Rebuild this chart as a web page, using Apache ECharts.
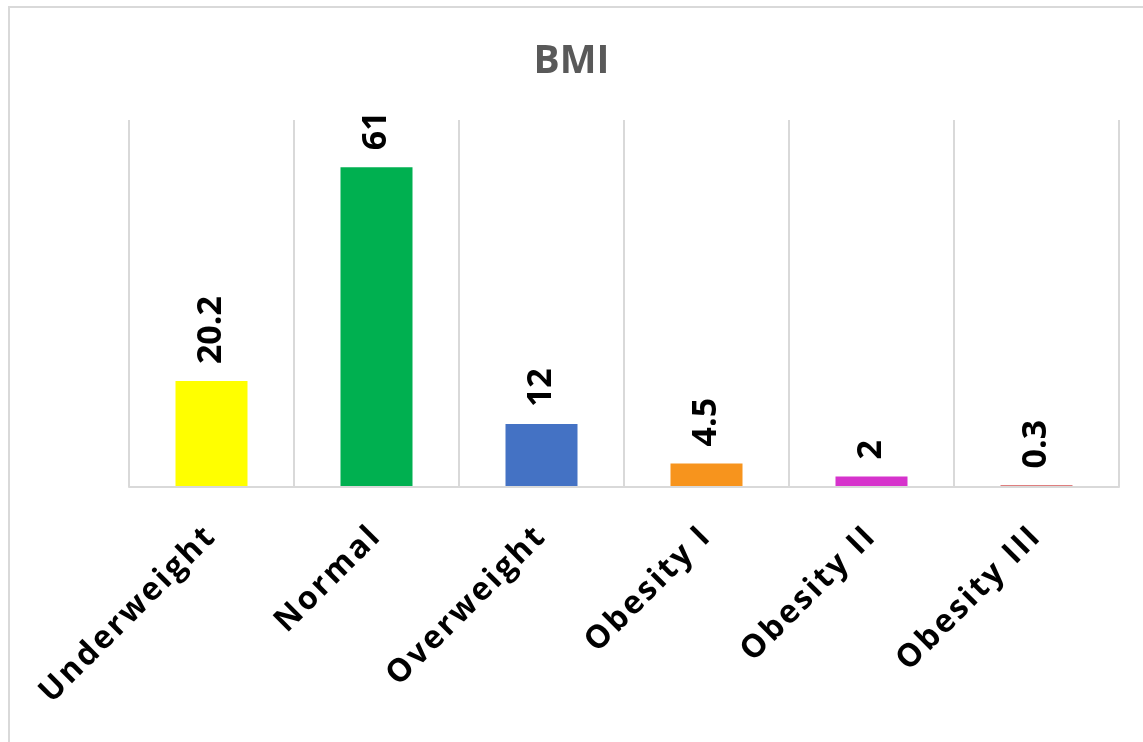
<!DOCTYPE html>
<html>
<head>
<meta charset="utf-8">
<script src="https://cdn.jsdelivr.net/npm/echarts@6/dist/echarts.min.js"></script>
<style>
  html, body { margin: 0; padding: 0; background: #fff; }
  #frame {
    position: absolute; left: 8px; top: 6px; width: 1150px; height: 760px;
    border: 2px solid #d9d9d9; box-sizing: border-box;
  }
  #chart { position: absolute; left: 0; top: 0; width: 1143px; height: 742px; }
</style>
</head>
<body>
<div id="frame"></div>
<div id="chart"></div>
<script>
const categories = ['Underweight', 'Normal', 'Overweight', 'Obesity I', 'Obesity II', 'Obesity III']
const values = [20.2, 61, 12, 4.5, 2, 0.3]
const barColors = ['#ffff00', '#00b050', '#4472c4', '#f7941d', '#d633cc', '#c00000']

// category labels in the original are drawn a bit spread out,
// give only that font size some extra letter spacing
const CAT_FONT = 32
const origFillText = CanvasRenderingContext2D.prototype.fillText
CanvasRenderingContext2D.prototype.fillText = function (t, x, y, w) {
  this.letterSpacing = this.font.indexOf(CAT_FONT + 'px') >= 0 ? '2.5px' : '0px'
  return w === undefined ? origFillText.call(this, t, x, y) : origFillText.call(this, t, x, y, w)
}

const chart = echarts.init(document.getElementById('chart'))

const option = {
  animation: false,
  title: {
    text: 'BMI',
    left: 'center',
    top: 37,
    textStyle: {
      fontFamily: 'Open Sans',
      fontWeight: 'bold',
      fontSize: 39,
      color: '#595959'
    }
  },
  grid: {
    left: 129,
    right: 24,
    top: 120,
    bottom: 255
  },
  xAxis: {
    type: 'category',
    data: categories,
    z: 3,
    axisLine: { lineStyle: { color: '#d9d9d9', width: 2 } },
    axisTick: { show: false },
    splitLine: { show: true, lineStyle: { color: '#d9d9d9', width: 2 } },
    axisLabel: {
      rotate: 45,
      margin: 44,
      interval: 0,
      fontFamily: 'Open Sans',
      fontWeight: 'bold',
      fontSize: CAT_FONT,
      color: '#000'
    }
  },
  yAxis: {
    type: 'value',
    min: 0,
    max: 70,
    show: false,
    splitLine: { show: false }
  },
  series: [
    {
      type: 'bar',
      data: values.map((v, i) => ({ value: v, itemStyle: { color: barColors[i] } })),
      barWidth: 72,
      label: {
        show: true,
        position: 'top',
        rotate: 90,
        align: 'left',
        verticalAlign: 'middle',
        distance: 17,
        fontFamily: 'Open Sans',
        fontWeight: 'bold',
        fontSize: 34,
        color: '#000'
      }
    }
  ]
}

chart.setOption(option)
</script>
</body>
</html>
